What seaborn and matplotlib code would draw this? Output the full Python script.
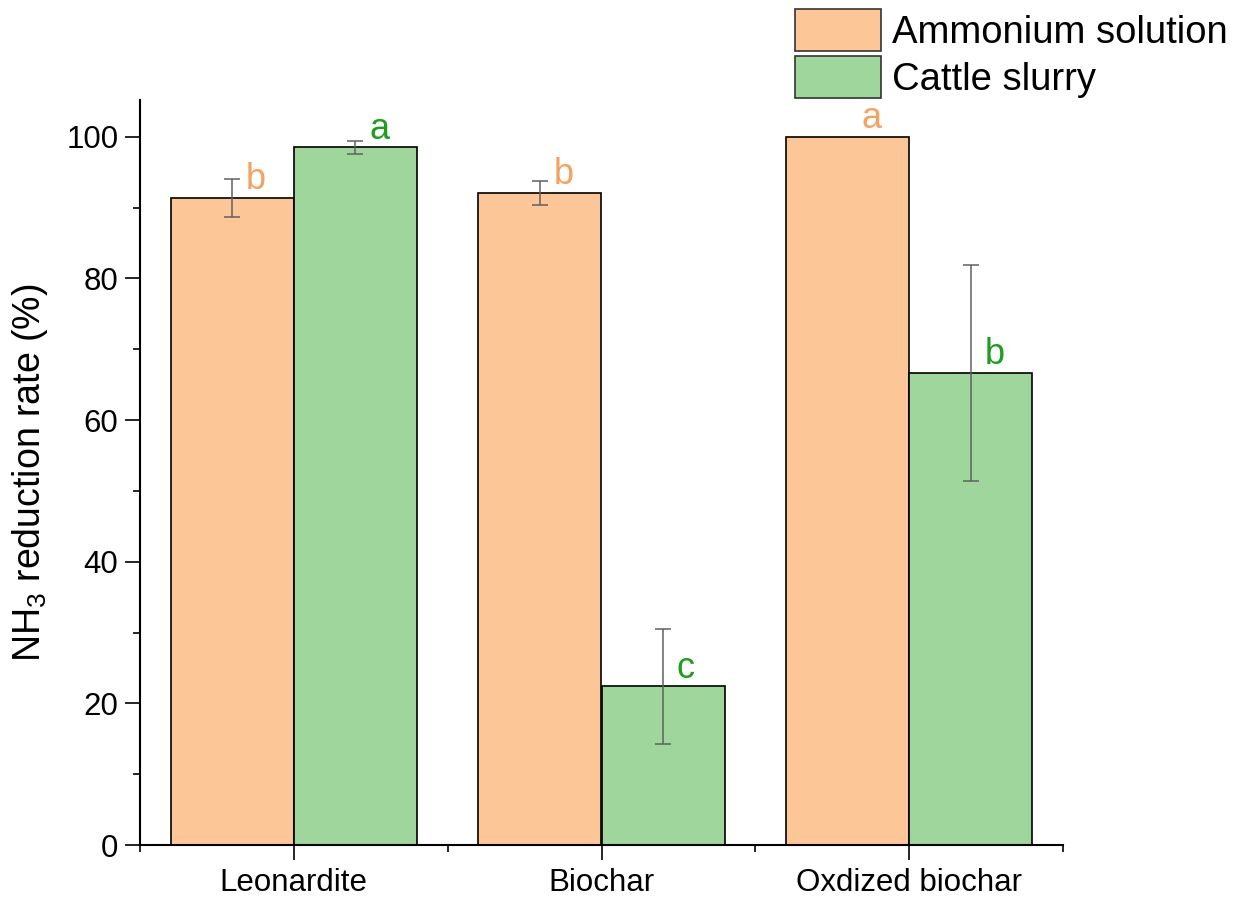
import matplotlib
matplotlib.use("Agg")
import matplotlib.pyplot as plt
import seaborn as sns
import pandas as pd
import numpy as np
from matplotlib.container import BarContainer
from matplotlib.ticker import MultipleLocator, FixedLocator

categories = ["Leonardite", "Biochar", "Oxdized biochar"]
media = ["Ammonium solution", "Cattle slurry"]
ammonium = [91.4, 92.1, 100.0]
ammonium_err = [2.7, 1.7, 0.0]
cattle = [98.5, 22.4, 66.7]
cattle_err = [0.9, 8.1, 15.25]
letters_ammonium = ["b", "b", "a"]
letters_cattle = ["a", "c", "b"]
yticks = [0, 20, 40, 60, 80, 100]

bar_colors = ["#FDC697", "#9ED69B"]
letter_colors = ["#F4A261", "#1E9E1E"]

sns.set_theme(style="ticks")
plt.rcParams["font.family"] = ["Liberation Sans", "DejaVu Sans"]
plt.rcParams["mathtext.fontset"] = "custom"
plt.rcParams["mathtext.rm"] = "Liberation Sans"
plt.rcParams["mathtext.it"] = "Liberation Sans:italic"
plt.rcParams["mathtext.bf"] = "Liberation Sans:bold"

df = pd.DataFrame({
    "Treatment": categories * 2,
    "Medium": [media[0]] * 3 + [media[1]] * 3,
    "Rate": ammonium + cattle,
})

fig = plt.figure(figsize=(12.34, 8.97), dpi=100)
ax = fig.add_axes([140 / 1234, 1 - 845 / 897, (1063 - 140) / 1234, (845 - 100) / 897])

sns.barplot(data=df, x="Treatment", y="Rate", hue="Medium", order=categories,
            hue_order=media, palette=bar_colors, edgecolor="black",
            linewidth=1.2, errorbar=None, width=0.8, saturation=1, ax=ax,
            legend=True)

errs = [ammonium_err, cattle_err]
letters = [letters_ammonium, letters_cattle]
bar_containers = [c for c in ax.containers if isinstance(c, BarContainer)]
for k, cont in enumerate(bar_containers):
    for i, bar in enumerate(cont.patches):
        cx = bar.get_x() + bar.get_width() / 2
        h = bar.get_height()
        e = errs[k][i]
        if e > 0:
            ax.errorbar(cx, h, yerr=e, fmt="none", ecolor="#606060",
                        elinewidth=1.1, capsize=5.5, capthick=1.1, zorder=5)
        ax.text(cx + 0.045, h + 1.2, letters[k][i], color=letter_colors[k],
                fontsize=26, ha="left", va="baseline", zorder=6)

ax.set_xlim(-0.5, 2.5)
ax.set_ylim(0, 105.2)
ax.set_yticks(yticks)
ax.yaxis.set_minor_locator(MultipleLocator(10))
ax.xaxis.set_minor_locator(FixedLocator([-0.5, 0.5, 1.5, 2.5]))
ax.tick_params(axis="both", which="major", direction="out", length=10.5,
               width=1.2, labelsize=22.5, pad=5, color="black", labelcolor="black")
ax.tick_params(axis="x", which="major", pad=6)
ax.tick_params(axis="both", which="minor", direction="out", length=5,
               width=1.2, color="black")
for s in ["top", "right"]:
    ax.spines[s].set_visible(False)
for s in ["left", "bottom"]:
    ax.spines[s].set_linewidth(1.5)
    ax.spines[s].set_color("black")

ax.set_xlabel("")
ax.set_ylabel("NH$_3$ reduction rate (%)", fontsize=27, labelpad=12, color="black")

handles, labels = ax.get_legend_handles_labels()
if ax.get_legend() is not None:
    ax.get_legend().remove()
for h in handles:
    h.set_edgecolor("#333333")
    h.set_linewidth(1.2)
fig.legend(handles, labels, loc="upper left",
           bbox_to_anchor=(795 / 1234, 1 - 9 / 897), frameon=False,
           fontsize=27.5, handlelength=2.25, handleheight=1.3,
           labelspacing=0.15, handletextpad=0.3, borderpad=0, borderaxespad=0,
           labelcolor="black")

fig.savefig("out.png", dpi=100)
